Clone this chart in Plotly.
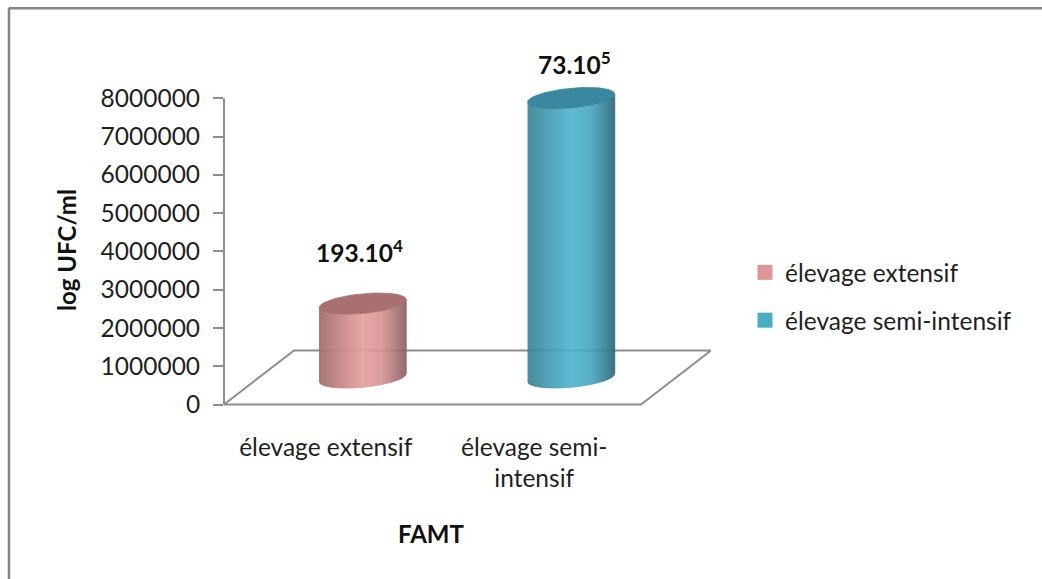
import numpy as np
import plotly.graph_objects as go

# Chart data
categories = ["élevage extensif", "élevage semi-<br>intensif"]
series_names = ["élevage extensif", "élevage semi-intensif"]
values = [1930000, 7300000]
value_labels = ["<b>193.10<sup>4</sup></b>", "<b>73.10<sup>5</sup></b>"]
y_ticks = [0, 1000000, 2000000, 3000000, 4000000, 5000000, 6000000, 7000000, 8000000]

# Colours
side_colours = [(232, 160, 160), (78, 180, 208)]
top_colours = ["#A87070", "#3A87A0"]
swatch_colours = ["#DD9596", "#4BACC6"]
line_grey = "#8E8E8E"
text_colour = "#1F1F1F"

# Canvas and plotting frame, in pixels
W, H = 1042, 579
LEFT, RIGHT = 224.0, 711.0
Y0, Y8 = 404.5, 98.5
PX_PER_UNIT = (Y0 - Y8) / 8e6
Y_LOW, Y_HIGH = -3e5, 9e6
TOP = Y0 - Y_HIGH * PX_PER_UNIT
BOTTOM = Y0 - Y_LOW * PX_PER_UNIT

# Horizontal scale: one category step in pixels, first category centre
STEP = 208.5
CENTRE0 = 362.7
X_LOW = (LEFT - CENTRE0) / STEP
X_HIGH = (RIGHT - CENTRE0) / STEP

# 3D look of the floor and the cylinders
DEPTH_X = 70.0 / STEP
DEPTH_Y = 54.0 / PX_PER_UNIT
BASE_RISE = 27.0 / PX_PER_UNIT
HALF_WIDTH = 43.6 / STEP
ELL_B = 9.8 / PX_PER_UNIT
ELL_TILT = 4.0 / PX_PER_UNIT
STRIPS = 87
LABEL_FRONT_SHIFT = 37.0 / STEP


def paper_x(px):
    return (px - LEFT) / (RIGHT - LEFT)


def paper_y(py):
    return (BOTTOM - py) / (BOTTOM - TOP)


def shade(u):
    """Brightness across the cylinder, from left edge (0) to right edge (1)."""
    return np.interp(u, [0, 0.12, 0.5, 0.72, 0.88, 1.0], [0.70, 0.78, 1.0, 0.93, 0.74, 0.58])


fig = go.Figure()

# Floor of the 3D plot
x_right_front = X_HIGH - DEPTH_X
fig.add_trace(go.Scatter(
    x=[X_LOW, X_LOW + DEPTH_X, X_HIGH, x_right_front, X_LOW],
    y=[0, DEPTH_Y, DEPTH_Y, 0, 0],
    mode="lines", line=dict(color=line_grey, width=2),
    hoverinfo="skip", showlegend=False,
))

# Cylinders: vertical shaded strips closed by a tilted elliptical cap
for i, value in enumerate(values):
    base = BASE_RISE
    top = BASE_RISE + value
    for k in range(STRIPS):
        u0, u1 = k / STRIPS, (k + 1) / STRIPS
        c = np.linspace(2 * u0 - 1, 2 * u1 - 1, 3)
        xs = i + HALF_WIDTH * c
        lower = ELL_TILT * c - ELL_B * np.sqrt(1 - c ** 2)
        upper = ELL_TILT * c
        x_poly = np.concatenate([xs, xs[::-1]])
        y_poly = np.concatenate([base + lower, (top + upper)[::-1]])
        f = shade((u0 + u1) / 2)
        r, g, b = [int(v * f) for v in side_colours[i]]
        col = f"rgb({r},{g},{b})"
        fig.add_trace(go.Scatter(
            x=x_poly, y=y_poly, mode="lines", fill="toself", fillcolor=col,
            line=dict(color=col, width=0.6), hoverinfo="skip", showlegend=False,
        ))
    t = np.linspace(0, 2 * np.pi, 90)
    fig.add_trace(go.Scatter(
        x=i + HALF_WIDTH * np.cos(t),
        y=top + ELL_TILT * np.cos(t) + ELL_B * np.sin(t),
        mode="lines", fill="toself", fillcolor=top_colours[i],
        line=dict(color=top_colours[i], width=0.8),
        hoverinfo="skip", showlegend=False,
    ))

# Legend entries
for i, name in enumerate(series_names):
    fig.add_trace(go.Scatter(
        x=[None], y=[None], mode="markers", name=name, legendgroup=name,
        marker=dict(symbol="square", size=15, color=swatch_colours[i]),
    ))

annotations = [
    dict(x=i, y=BASE_RISE + v, text=lbl, showarrow=False, xshift=xs, yshift=s,
         font=dict(family="Lato", size=24.5, color="#111111"))
    for i, (v, lbl, s, xs) in enumerate(zip(values, value_labels, [53, 35], [-3, 3]))
]
annotations += [
    dict(xref="paper", yref="paper", x=paper_x(431), y=paper_y(533), text="<b>FAMT</b>",
         xanchor="center", yanchor="middle", showarrow=False,
         font=dict(family="Lato", size=24, color="#111111")),
    dict(xref="paper", yref="paper", x=paper_x(67), y=paper_y(250), text="<b>log UFC/ml</b>",
         xanchor="center", yanchor="middle", textangle=-90, showarrow=False,
         font=dict(family="Lato", size=24, color="#111111")),
]

shapes = [
    # Chart-area border: top and left edges only
    dict(type="line", xref="paper", yref="paper", x0=paper_x(9), x1=paper_x(W),
         y0=paper_y(8.5), y1=paper_y(8.5), line=dict(color="#858585", width=2.5)),
    dict(type="line", xref="paper", yref="paper", x0=paper_x(9), x1=paper_x(9),
         y0=paper_y(8), y1=paper_y(H), line=dict(color="#858585", width=2.5)),
    # Value axis line, stopping at the last tick
    dict(type="line", xref="paper", yref="y", x0=0, x1=0, y0=0, y1=8e6,
         line=dict(color=line_grey, width=2)),
]

fig.update_layout(
    width=W, height=H,
    autosize=False,
    margin=dict(l=LEFT, r=W - RIGHT, t=TOP, b=H - BOTTOM, autoexpand=False),
    paper_bgcolor="white", plot_bgcolor="white",
    font=dict(family="Lato", size=24.5, color=text_colour),
    xaxis=dict(
        range=[X_LOW, X_HIGH], tickmode="array",
        tickvals=[i - LABEL_FRONT_SHIFT for i in range(len(categories))],
        ticktext=categories, showgrid=False, zeroline=False, showline=False,
        ticks="", ticklabelstandoff=14,
    ),
    yaxis=dict(
        range=[Y_LOW, Y_HIGH], tickmode="array", tickvals=y_ticks,
        ticktext=[str(v) for v in y_ticks], showgrid=False, zeroline=False,
        showline=False, ticks="outside", ticklen=10, tickwidth=2, tickcolor=line_grey,
        ticklabelstandoff=8,
    ),
    legend=dict(
        x=paper_x(745), y=paper_y(250), xanchor="left", yanchor="top",
        tracegroupgap=13, bgcolor="rgba(0,0,0,0)", font=dict(size=24.5),
        itemsizing="trace",
    ),
    annotations=annotations, shapes=shapes,
)

fig.write_html("out.html", config=dict(displayModeBar=False))
